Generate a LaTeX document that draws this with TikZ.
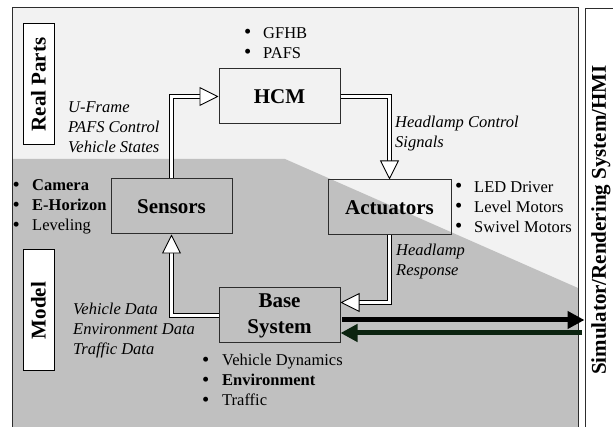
\documentclass[tikz,border=0pt]{standalone}
\usepackage{fontspec}
\setmainfont{Liberation Serif}
\usetikzlibrary{arrows.meta}
\definecolor{lightbg}{RGB}{242,242,242}
\definecolor{graybg}{RGB}{192,192,192}
\definecolor{edgec}{RGB}{45,45,45}
\definecolor{darkgrn}{RGB}{12,36,16}
\begin{document}
\begin{tikzpicture}[x=1pt,y=-1pt,
  txt/.style={inner sep=0pt, font=\fontsize{16.5}{20}\selectfont, align=left, anchor=west},
  itxt/.style={txt, font=\fontsize{16.5}{20}\selectfont\itshape},
  blockbox/.style={draw=edgec, line width=1pt, minimum width=121pt, minimum height=55pt, inner sep=0pt,
    font=\fontsize{21}{26}\selectfont\bfseries, align=center},
  sidebox/.style={draw=black, fill=white, line width=1pt, rotate=90, minimum width=121pt, minimum height=31pt,
    inner sep=0pt, font=\fontsize{21}{24}\selectfont\bfseries},
  dbl/.style={draw=black, line width=0.9pt, double=white, double distance=3pt,
    -{Triangle[open, fill=white, length=19pt, width=19pt, line width=0.9pt]}},
  blk/.style={draw=black, line width=5pt, -{Triangle[length=17pt, width=17pt]}},
]
\newcommand{\bul}[1]{\makebox[#1][l]{\raisebox{-0.6pt}{\scalebox{1.25}{\textbullet}}}}
\useasboundingbox (0,0) rectangle (613,427);
\begin{scope}
\clip (0,0) rectangle (613,427);
\fill[lightbg] (12,8) rectangle (578,440);
\fill[graybg] (12,159) -- (285,159) -- (578,288) -- (578,440) -- (12,440) -- cycle;
\draw[edgec, line width=1pt] (12,440) -- (12,8) -- (578,8) -- (578,440);
\node[draw=edgec, fill=white, line width=1pt, minimum width=50pt, minimum height=440pt, inner sep=0pt, anchor=north west] (sim) at (584.5,8) {};
\end{scope}
\node[rotate=90, inner sep=0pt, font=\fontsize{21}{24}\selectfont\bfseries] (simtext) at (601,220) {Simulator/Rendering System/HMI};

% side labels
\node[sidebox] (real) at (38.5,84.5) {Real Parts};
\node[sidebox] (model) at (38.5,310.5) {Model};

% blocks
\node[blockbox] (hcm) at (279.5,96.5) {HCM};
\node[blockbox] (sens) at (171.5,206.5) {Sensors};
\node[blockbox, minimum width=123pt] (act) at (389.5,207.5) {Actuators};
\node[blockbox] (base) at (279.5,315.5) {Base\\System};

% double arrows
\draw[dbl] (sens.north) |- (hcm.west);
\draw[dbl] (hcm.east) -| (act.north);
\draw[dbl] (act.south) |- ([yshift=13pt]base.east);
\draw[dbl] (base.west) -| (sens.south);

% black arrows
\coordinate (o1) at ([yshift=-4.5pt]base.east);
\coordinate (o2) at ([yshift=-17.5pt]base.east);
\coordinate (s2) at (o2 -| sim.west);
\draw[blk] ([xshift=1.5pt]o1) -- (o1 -| sim.west);
\draw[blk, draw=darkgrn] ([xshift=-3pt]s2) -- (o2);

% texts
\node[txt] (hcmlist) at (244,43) {\bul{19pt}GFHB\\\bul{19pt}PAFS};
\node[itxt] (sensout) at (68,127) {U-Frame\\PAFS Control\\Vehicle States};
\node[itxt] (hcmout) at (395,133.5) {Headlamp Control\\Signals};
\node[txt] (senslist) at (12.5,207) {\bul{19.5pt}\textbf{Camera}\\\bul{19.5pt}\textbf{E-Horizon}\\\bul{19.5pt}Leveling};
\node[txt] (actlist) at (455,207) {\bul{19pt}LED Driver\\\bul{19pt}Level Motors\\\bul{19pt}Swivel Motors};
\node[itxt] (actout) at (396,262) {Headlamp\\Response};
\node[itxt] (baseout) at (73,330.5) {Vehicle Data\\Environment Data\\Traffic Data};
\node[txt] (baselist) at (202,380) {\bul{20pt}Vehicle Dynamics\\\bul{20pt}\textbf{Environment}\\\bul{20pt}Traffic};
\end{tikzpicture}
\end{document}
